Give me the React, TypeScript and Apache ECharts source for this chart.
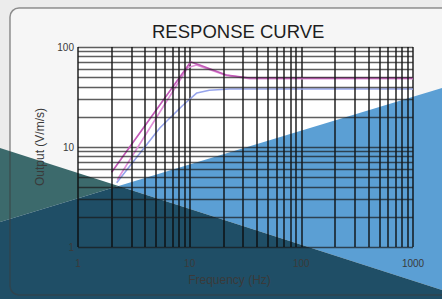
import React, { useEffect, useRef } from "react";
import * as echarts from "echarts";

// Frequency response curves (log-log)
const magentaX = [2.0, 10.2, 12.3, 21.3, 34.5, 1000];
const magentaY = [5.6, 70.8, 66, 52.5, 49, 49];

const pinkX = [2.25, 9.6, 11.5, 21.3, 34.5, 1000];
const pinkY = [4.7, 62, 66, 52, 48.3, 48.3];

const blueX = [2.22, 5.4, 8.65, 11.6, 15, 22.8, 1000];
const blueY = [4.4, 15.5, 26, 34.7, 37, 38, 38];

// log-paper minor grid values
const minorX = [2, 3, 4, 5, 6, 7, 8, 9, 20, 30, 40, 50, 60, 70, 80, 90, 200, 300, 400, 500, 600, 700, 800, 900];
const minorY = [2, 3, 4, 5, 6, 7, 8, 9, 20, 30, 40, 50, 60, 70, 80, 90];

const xTicks = [1, 10, 100, 1000];
const yTicks = [1, 10, 100];

const toPairs = (xs: number[], ys: number[]) => xs.map((x, i) => [x, ys[i]]);

export default function App() {
  const ref = useRef<HTMLDivElement>(null);
  useEffect(() => {
    document.body.style.margin = "0";
    const chart = echarts.init(ref.current!, undefined, { renderer: "svg" });
    const vStyle = { color: "rgba(10,10,10,0.85)", width: 1.6, type: "solid" as const };
    const hStyle = { color: "rgba(25,25,25,0.7)", width: 1.4, type: "solid" as const };
    chart.setOption({
      animation: false,
      backgroundColor: "#ececec",
      title: {
        text: "RESPONSE CURVE",
        left: 147,
        top: 17,
        textStyle: { fontFamily: "Liberation Sans", fontWeight: "normal", fontSize: 18.5, color: "#1e1e1e" },
      },
      grid: {
        left: 78,
        top: 47,
        width: 335,
        height: 200,
        show: true,
        backgroundColor: "#ffffff",
        borderWidth: 0,
        z: -8,
      },
      xAxis: {
        type: "log",
        logBase: 10,
        min: 1,
        max: 1000,
        name: "Frequency (Hz)",
        nameLocation: "middle",
        nameGap: 27,
        nameTextStyle: { fontFamily: "Liberation Sans", fontSize: 12, color: "#3a3a3a", padding: [0, 32, 0, 0] },
        axisLine: { show: false },
        axisTick: { show: false },
        axisLabel: {
          margin: 11,
          fontFamily: "Liberation Sans",
          fontSize: 10,
          color: "#3a3a3a",
          formatter: (v: number) => (xTicks.includes(Math.round(v)) ? String(Math.round(v)) : ""),
        },
        splitLine: { show: true, lineStyle: vStyle },
      },
      yAxis: {
        type: "log",
        logBase: 10,
        min: 1,
        max: 100,
        name: "Output (V/m/s)",
        nameLocation: "middle",
        nameGap: 31,
        nameTextStyle: { fontFamily: "Liberation Sans", fontSize: 12, color: "#3a3a3a" },
        axisLine: { show: false },
        axisTick: { show: false },
        axisLabel: {
          margin: 4,
          fontFamily: "Liberation Sans",
          fontSize: 10,
          color: "#3a3a3a",
          formatter: (v: number) => (yTicks.includes(Math.round(v)) ? String(Math.round(v)) : ""),
        },
        splitLine: { show: true, lineStyle: hStyle },
      },
      graphic: [
        {
          type: "rect",
          z: -10,
          silent: true,
          shape: { x: 10, y: 8, width: 452, height: 287, r: 9 },
          style: { fill: "#f6f6f6", stroke: "none" },
        },
        {
          type: "polygon",
          z: -5,
          silent: true,
          shape: { points: [[0, 148], [118.5, 186], [0, 222]] },
          style: { fill: "#3c6a6c" },
        },
        {
          type: "polygon",
          z: -5,
          silent: true,
          shape: { points: [[118.5, 186], [442, 88], [442, 290]] },
          style: { fill: "#5b9fd4" },
        },
        {
          type: "polygon",
          z: -5,
          silent: true,
          shape: { points: [[0, 222], [118.5, 186], [442, 290], [442, 299], [0, 299]] },
          style: { fill: "#1f4e66" },
        },
        {
          type: "rect",
          z: -4,
          silent: true,
          shape: { x: 10, y: 8, width: 452, height: 287, r: 9 },
          style: { fill: "none", stroke: "rgba(60,60,60,0.55)", lineWidth: 1.5 },
        },
      ],
      series: [
        {
          type: "line",
          data: [],
          z: 1,
          silent: true,
          markLine: {
            silent: true,
            symbol: ["none", "none"],
            label: { show: false },
            emphasis: { disabled: true },
            data: [
              ...minorX.map((v) => ({ xAxis: v, lineStyle: vStyle })),
              ...minorY.map((v) => ({ yAxis: v, lineStyle: hStyle })),
            ],
          },
        },
        {
          type: "line",
          data: toPairs(blueX, blueY),
          showSymbol: false,
          z: 3,
          lineStyle: { color: "#97a5ec", width: 1.6 },
        },
        {
          type: "line",
          data: toPairs(pinkX, pinkY),
          showSymbol: false,
          z: 3,
          lineStyle: { color: "#e08fd8", width: 1.6 },
        },
        {
          type: "line",
          data: toPairs(magentaX, magentaY),
          showSymbol: false,
          z: 4,
          lineStyle: { color: "#c35ab8", width: 1.7 },
        },
      ],
    });
    return () => chart.dispose();
  }, []);
  return <div ref={ref} style={{ width: 442, height: 299 }} />;
}
